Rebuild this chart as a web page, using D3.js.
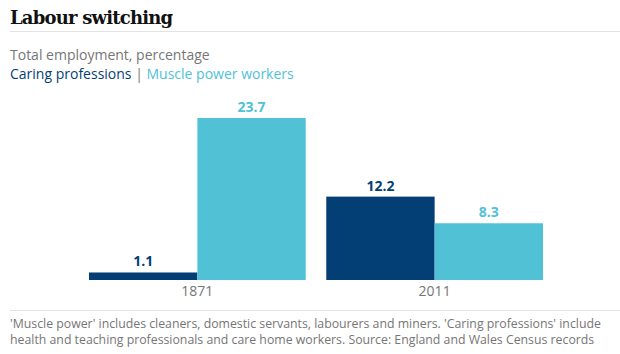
<!DOCTYPE html>
<html>
<head>
<meta charset="utf-8">
<script src="https://cdn.jsdelivr.net/npm/d3@7"></script>
<style>
  body { margin: 0; background: #fff; }
  text { font-family: "Open Sans", "Noto Sans", sans-serif; }
</style>
</head>
<body>
<div class="chart"></div>
<script>
const YEARS = ["1871", "2011"]
const SERIES = ["Caring professions", "Muscle power workers"]
const CARING = [1.1, 12.2]
const MUSCLE = [23.7, 8.3]
const COLORS = ["#033f75", "#51c1d6"]

const WIDTH = 620, HEIGHT = 354
const BASELINE = 280

let svg = d3.select(".chart").append("svg").attr("width", WIDTH).attr("height", HEIGHT)

// header
svg.append("text").attr("x", 10).attr("y", 24)
  .style("font-family", "'DejaVu Serif', serif").style("font-weight", "bold")
  .style("font-size", "18px").style("letter-spacing", "-0.8px").attr("fill", "#111")
  .text("Labour switching")
svg.append("line").attr("x1", 10).attr("x2", 620).attr("y1", 31.5).attr("y2", 31.5)
  .attr("stroke", "#e3e3e3").attr("stroke-width", 1)

svg.append("text").attr("x", 10).attr("y", 60).attr("fill", "#767676")
  .style("font-size", "14px").text("Total employment, percentage")

let legend = svg.append("text").attr("x", 10).attr("y", 79).style("font-size", "14px")
legend.append("tspan").attr("fill", COLORS[0]).text(SERIES[0])
legend.append("tspan").attr("fill", "#767676").text(" | ")
legend.append("tspan").attr("fill", COLORS[1]).text(SERIES[1])

// scales
let x0 = d3.scaleBand().domain(YEARS).range([89, 543]).paddingInner(0.0865)
let x1 = d3.scaleBand().domain([0, 1]).range([0, x0.bandwidth()])
let y = d3.scaleLinear().domain([0, 23.7]).range([BASELINE, 118])

let rows = YEARS.map((yr, i) => ({ year: yr, values: [CARING[i], MUSCLE[i]] }))

let groups = svg.selectAll(".grp").data(rows).join("g")
  .attr("transform", d => `translate(${x0(d.year)},0)`)

groups.selectAll("rect").data(d => d.values).join("rect")
  .attr("x", (d, i) => x1(i))
  .attr("width", x1.bandwidth())
  .attr("y", d => y(d))
  .attr("height", d => BASELINE - y(d))
  .attr("fill", (d, i) => COLORS[i])

groups.selectAll(".val").data(d => d.values).join("text")
  .attr("class", "val")
  .attr("x", (d, i) => x1(i) + x1.bandwidth() / 2)
  .attr("y", d => y(d) - 6)
  .attr("text-anchor", "middle")
  .style("font-size", "14px").style("font-weight", "bold")
  .attr("fill", (d, i) => COLORS[i])
  .text(d => d3.format(".1f")(d))

// x axis labels
let axis = svg.append("g").attr("transform", `translate(0,${BASELINE})`)
  .call(d3.axisBottom(x0).tickSize(0).tickPadding(6))
axis.select(".domain").remove()
axis.selectAll("text").style("font-size", "14px").attr("fill", "#767676")
  .style("font-family", "'Open Sans', sans-serif")

// footer
svg.append("line").attr("x1", 10).attr("x2", 620).attr("y1", 310.5).attr("y2", 310.5)
  .attr("stroke", "#e3e3e3").attr("stroke-width", 1)
let notes = ["'Muscle power' includes cleaners, domestic servants, labourers and miners. 'Caring professions' include",
  "health and teaching professionals and care home workers. Source: England and Wales Census records"]
svg.selectAll(".note").data(notes).join("text")
  .attr("x", 10).attr("y", (d, i) => 328 + i * 15.5)
  .attr("fill", "#767676").style("font-size", "12.3px")
  .text(d => d)
</script>
</body>
</html>
